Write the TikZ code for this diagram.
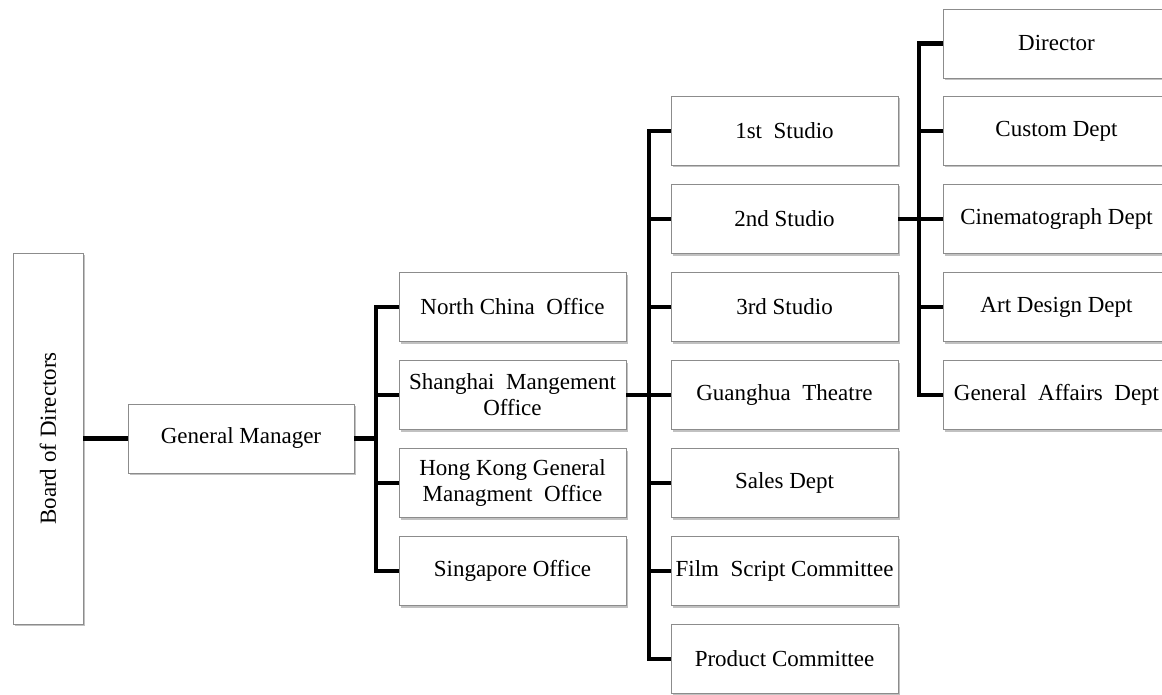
\documentclass[tikz,border=0pt]{standalone}
\usepackage{fontspec}
\setmainfont{Liberation Serif}
\usetikzlibrary{shadows}
\begin{document}
\begin{tikzpicture}[x=1pt,y=-1pt,
  box/.style={draw=black!45, line width=0.8pt, fill=white, inner sep=0pt,
    minimum width=227pt, minimum height=69pt, align=center,
    font=\fontsize{23}{26}\selectfont,
    drop shadow={shadow xshift=1.5pt, shadow yshift=-2pt, fill=black!35, opacity=0.7}},
  conn/.style={line width=4.3pt, black, line join=miter}]
\useasboundingbox (0,0) rectangle (1162,695);
% nodes
\node[box, minimum width=70pt, minimum height=371pt] (bod) at (48,438.5) {};
\node[rotate=90, font=\fontsize{23}{26}\selectfont, inner sep=0pt] (bodt) at (bod.center) {Board of Directors};
\node[box, minimum width=226pt] (gm) at (241,438.5) {General Manager};
\node[box] (nc) at (512.5,307) {North China\ \ Office};
\node[box] (sh) at (512.5,395) {Shanghai\ \ Mangement\\Office};
\node[box] (hk) at (512.5,483) {Hong Kong General\\Managment\ \ Office};
\node[box] (sg) at (512.5,571) {Singapore Office};
\node[box] (s1) at (784.5,131) {1st\ \ Studio};
\node[box] (s2) at (784.5,219) {2nd Studio};
\node[box] (s3) at (784.5,307) {3rd Studio};
\node[box] (gt) at (784.5,395) {Guanghua\ \ Theatre};
\node[box] (sd) at (784.5,483) {Sales Dept};
\node[box] (fs) at (784.5,571) {Film\ \ Script Committee};
\node[box] (pc) at (784.5,659) {Product Committee};
\node[box] (dir) at (1056.5,43.5) {Director};
\node[box] (cd) at (1056.5,131) {Custom Dept};
\node[box] (cg) at (1056.5,219) {Cinematograph Dept};
\node[box] (ad) at (1056.5,307) {Art Design Dept};
\node[box] (ga) at (1056.5,395) {General\ \ Affairs\ \ Dept};
% bus coordinates
\coordinate (bus1) at (376,438.5);
\coordinate (bus2) at (649,395);
\coordinate (bus3) at (919,219);
% connectors
\draw[conn] (bod.east) -- (gm.west);
\draw[conn] (gm.east) -- (bus1);
\draw[conn] (nc.west) -| (bus1) |- (sg.west);
\draw[conn] (sh.west) -- (sh.west -| bus1);
\draw[conn] (hk.west) -- (hk.west -| bus1);
\draw[conn] (sh.east) -- (bus2);
\draw[conn] (s1.west) -| (bus2) |- (pc.west);
\draw[conn] (s2.west) -- (s2.west -| bus2);
\draw[conn] (s3.west) -- (s3.west -| bus2);
\draw[conn] (gt.west) -- (gt.west -| bus2);
\draw[conn] (sd.west) -- (sd.west -| bus2);
\draw[conn] (fs.west) -- (fs.west -| bus2);
\draw[conn] (s2.east) -- (bus3);
\draw[conn] (dir.west) -| (bus3) |- (ga.west);
\draw[conn] (cd.west) -- (cd.west -| bus3);
\draw[conn] (cg.west) -- (cg.west -| bus3);
\draw[conn] (ad.west) -- (ad.west -| bus3);
\end{tikzpicture}
\end{document}
